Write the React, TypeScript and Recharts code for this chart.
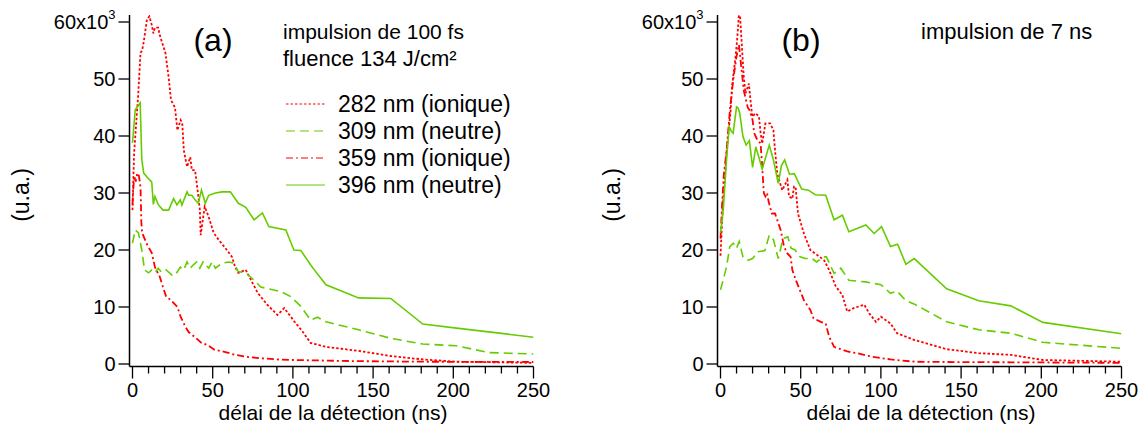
import React from 'react';
import { LineChart, Line, XAxis, YAxis } from 'recharts';

const RED = '#ff0000';
const GREEN = '#66cc00';
const FONT = "'Liberation Sans', Arial, Helvetica, sans-serif";

// (a) impulsion de 100 fs — time in ns, intensity in 10^3 u.a.
const a282T = [0, 1, 3.5, 5, 6, 7, 9, 10.5, 12, 13, 14, 16, 17, 18, 20.5, 22.5, 24, 26.5, 28, 30, 31, 32, 34, 36, 37, 39, 40, 41, 42, 42.5, 45, 47.5, 50.6, 53.7, 58, 62, 64, 66, 70.6, 78, 84, 90.4, 94.6, 100.8, 106, 111, 120.6, 141, 161, 181, 202, 250];
const a282V = [27, 37, 47, 54.6, 55, 56.5, 60.4, 61, 59.5, 58, 59, 59, 57.7, 56.8, 54.6, 50.4, 46.3, 45, 41, 42.8, 42.3, 37.5, 34.6, 36.3, 34, 34, 31.8, 29.5, 27, 22.6, 27.6, 25.8, 23, 21.8, 20.3, 18.8, 17, 16, 16.5, 12.5, 10.4, 8.6, 9.8, 7.5, 5.7, 3.7, 3, 2.3, 1.4, 0.8, 0.4, 0.2];

const a309T = [0, 1.7, 3.75, 5.8, 7.5, 10, 12, 14, 16, 18, 21, 24.6, 26.7, 29.8, 31.9, 34, 36, 38, 40, 42, 44, 47.5, 49.6, 51.7, 55.8, 60, 63, 66, 70.6, 75.8, 80, 92.5, 98.8, 105, 111, 115.4, 120.6, 141, 161, 181, 202, 222, 250];
const a309V = [21.2, 23.5, 23, 20, 16.5, 16, 16.5, 16, 16.8, 16.1, 16.5, 15.6, 15.6, 17, 16.5, 17.9, 16.8, 17.4, 17.9, 16.8, 17.9, 16.8, 17.9, 16.8, 17.7, 17.9, 17.7, 16.2, 16, 14.7, 13.5, 12.7, 11.8, 10.1, 7.7, 8.2, 7.4, 6, 4.5, 3.5, 3.2, 2, 1.75];

const a359T = [0, 1, 2, 3, 4, 5, 5.5, 6, 9, 12, 14, 17, 19, 21, 24, 28, 30, 33, 35, 39, 43, 47, 51, 58, 64, 70, 80, 90, 100, 120, 140, 180, 250];
const a359V = [28, 33, 32, 33.5, 33, 31, 25, 23, 21, 19.5, 17, 15.3, 13.5, 11.8, 11.2, 10, 8.3, 6.5, 5.6, 4.7, 3.7, 3.3, 2.5, 2.1, 1.6, 1.3, 1.0, 0.8, 0.7, 0.6, 0.5, 0.4, 0.35];

const a396T = [0, 1.7, 3.75, 4.8, 5.8, 7, 9, 12, 13, 14, 16, 19, 22.5, 25.6, 27.7, 29.8, 30.8, 34, 35, 37, 39, 41, 43, 45.4, 47.5, 51.7, 55.8, 61, 66, 70.6, 75.8, 81, 85, 95.6, 100.6, 105, 111, 115, 120.6, 141, 161, 181, 202, 250];
const a396V = [38.8, 44.6, 45.4, 45.8, 35.8, 33.5, 32.8, 31.9, 28, 29.4, 28, 27, 27, 29, 27.9, 28.8, 27.9, 30.2, 29.6, 29.6, 28.8, 28.2, 30.5, 28.2, 29.6, 30, 30.2, 30.2, 28.2, 27.5, 25.3, 26.5, 24.1, 23.5, 20, 19.9, 17.4, 15.9, 13.9, 11.6, 11.5, 7, 6.3, 4.7];

// (b) impulsion de 7 ns
const b282T = [0, 1.5, 4, 6.2, 7.3, 9.4, 10.4, 11.4, 12, 13.5, 14.5, 15.6, 17.7, 18.7, 19.8, 21.9, 24, 25, 26, 28, 31, 33, 34, 35.4, 36.5, 38.5, 41.7, 42.7, 44.8, 45.8, 46.8, 48.3, 52, 56, 60.4, 64.6, 67.7, 71.9, 76, 79, 83, 89.6, 92.7, 96.9, 100, 106, 110, 121, 141, 161, 181, 201, 250];
const b282V = [19, 28, 38, 44, 49, 53.9, 57, 61, 62, 55, 50.4, 47.5, 49.2, 46.3, 43.4, 44, 43.4, 40.5, 38.7, 42.2, 42.2, 41, 37.5, 33.4, 32.3, 30.5, 32.3, 29.4, 29, 31.1, 31.1, 26.4, 22.9, 20, 19.1, 18.2, 16.5, 13.6, 12.1, 9.2, 9.8, 10.4, 8.9, 7.4, 8.3, 7.1, 5.4, 4.2, 2.6, 1.9, 1.6, 0.7, 0.4];

const b309T = [0, 3.75, 5.8, 8, 10, 11.7, 14, 17, 20, 23.5, 27.7, 30.4, 33, 36, 39, 42, 44, 46.5, 49.6, 52.7, 57, 60, 64, 66, 70.8, 75, 80, 90.6, 100, 106, 110, 115.6, 121, 141, 161, 181, 201, 250];
const b309V = [13, 17, 20.6, 21.2, 20.3, 21.5, 18.8, 18.2, 18.5, 19.7, 19.9, 22.6, 21.8, 18.5, 22, 22.3, 20.3, 20, 18.8, 18.5, 18.5, 17.9, 18.8, 18.8, 15.9, 16.8, 14.7, 14.4, 13.9, 12.4, 12.8, 11.1, 10.5, 7.4, 6, 5.4, 3.8, 2.75];

const b359T = [0, 1, 2, 4, 6, 8, 10, 11.5, 13, 14.5, 17, 18, 20, 21, 23, 25, 26, 27, 28, 29, 30, 32, 34, 37.5, 39.6, 41.7, 43.7, 44.8, 47, 52, 56, 58, 62.5, 65.6, 67.7, 70.8, 79, 85, 94, 106, 121, 141, 181, 250];
const b359V = [22, 28, 33, 38, 45, 50, 54, 56, 52, 48, 45, 44.6, 42.8, 40.5, 39.3, 38.7, 34.6, 30, 29.4, 30, 28.5, 26.4, 26.4, 23.5, 20.6, 19.4, 18.8, 16.5, 14.7, 11.2, 9.5, 8, 7.4, 7.1, 4.8, 3, 2.2, 1.9, 1.3, 0.8, 0.4, 0.35, 0.3, 0.2];

const b396T = [0, 1.7, 3.75, 5.4, 6.9, 7.9, 10, 11, 12, 14, 16, 18, 20, 22, 24, 26, 30.4, 33, 36, 38, 40, 43, 46, 50.6, 54.8, 59, 65.6, 70.8, 76, 80, 90.6, 95.8, 100.4, 106, 110.4, 115.6, 120.8, 141, 161, 181, 201, 250];
const b396V = [23, 27, 35.8, 41.6, 40.8, 40.5, 45.1, 44.9, 44, 39.9, 38.4, 39.2, 34.5, 38.1, 36.2, 34.2, 38.4, 35.8, 31.7, 34.8, 35.8, 33.3, 33.4, 30.7, 30.5, 29.7, 29.6, 25.3, 26.1, 23.2, 24.4, 22.9, 24.1, 20.6, 21, 17.5, 18.5, 13.2, 11.1, 10.2, 7.3, 5.3];

const xTicks = [0, 10, 20, 30, 40, 50, 60, 70, 80, 90, 100, 110, 120, 130, 140, 150, 160, 170, 180, 190, 200, 210, 220, 230, 240, 250];
const yTicks = [0, 10, 20, 30, 40, 50, 60];
const legendLabels = ['282 nm (ionique)', '309 nm (neutre)', '359 nm (ionique)', '396 nm (neutre)'];

// line looks, same order as the legend
const seriesStyle = [
  { color: RED, dash: '2.5 2', width: 1.8 },
  { color: GREEN, dash: '9 5', width: 1.6 },
  { color: RED, dash: '7 3 2 3', width: 1.8 },
  { color: GREEN, dash: undefined, width: 1.6 },
];

const zip = (t: number[], v: number[]) => t.map((x, i) => ({ t: x, v: v[i] }));

// geometry of a panel (px inside its own 560 wide chart)
const CH_W = 560;
const CH_H = 437;
const AXIS_X = 129.5;
const AXIS_Y = 366.5;
const PLOT_TOP = 15;
const PLOT_RIGHT = 533.5;
const X_DOMAIN: [number, number] = [-1.87, 250];
const Y_DOMAIN: [number, number] = [-0.44, 61.23];

const XTick = (props: any) => {
  const { x, payload } = props;
  const v = payload.value;
  const major = v % 50 === 0;
  return (
    <g>
      <line x1={x} x2={x} y1={AXIS_Y} y2={AXIS_Y + (major ? 12 : 7)} stroke="#000" strokeWidth={1.3} />
      {major && (
        <text x={x} y={390} textAnchor="middle" dominantBaseline="central" fontSize={20} fontFamily={FONT} fill="#000">
          {v}
        </text>
      )}
    </g>
  );
};

const YTick = (props: any) => {
  const { y, payload } = props;
  const v = payload.value;
  return (
    <g>
      <line x1={AXIS_X - 11} x2={AXIS_X} y1={y} y2={y} stroke="#000" strokeWidth={1.3} />
      <text x={AXIS_X - 14} y={y} textAnchor="end" dominantBaseline="central" fontSize={20} fontFamily={FONT} fill="#000">
        {v === 60 ? (
          <>
            60x10<tspan dy={-8} fontSize={13}>3</tspan>
          </>
        ) : (
          v
        )}
      </text>
    </g>
  );
};

const Panel = ({ series }: { series: { t: number[]; v: number[] }[] }) => (
  <LineChart
    width={CH_W}
    height={CH_H}
    margin={{ top: PLOT_TOP, right: CH_W - PLOT_RIGHT, bottom: CH_H - AXIS_Y - 30, left: AXIS_X - 60 }}
  >
    <XAxis
      type="number"
      dataKey="t"
      domain={X_DOMAIN}
      ticks={xTicks}
      interval={0}
      height={30}
      tickSize={0}
      tickMargin={0}
      tickLine={false}
      tick={(p: any) => <XTick {...p} />}
      axisLine={{ stroke: '#000', strokeWidth: 1.5 }}
      allowDataOverflow
    />
    <YAxis
      type="number"
      domain={Y_DOMAIN}
      ticks={yTicks}
      interval={0}
      width={60}
      tickSize={0}
      tickMargin={0}
      tickLine={false}
      tick={(p: any) => <YTick {...p} />}
      axisLine={{ stroke: '#000', strokeWidth: 1.5 }}
      allowDataOverflow
    />
    {series.map((s, i) => (
      <Line
        key={i}
        data={zip(s.t, s.v)}
        dataKey="v"
        type="linear"
        stroke={seriesStyle[i].color}
        strokeDasharray={seriesStyle[i].dash}
        strokeWidth={seriesStyle[i].width}
        dot={false}
        activeDot={false}
        isAnimationActive={false}
      />
    ))}
  </LineChart>
);

const txt = { fontFamily: FONT, fill: '#000' };

export default function App() {
  const panelA = [
    { t: a282T, v: a282V },
    { t: a309T, v: a309V },
    { t: a359T, v: a359V },
    { t: a396T, v: a396V },
  ];
  const panelB = [
    { t: b282T, v: b282V },
    { t: b309T, v: b309V },
    { t: b359T, v: b359V },
    { t: b396T, v: b396V },
  ];
  const legendRows = [104, 131, 158, 185];

  return (
    <div style={{ position: 'absolute', left: 0, top: 0, width: 1144, height: 437, background: '#fff' }}>
      <div style={{ position: 'absolute', left: 0, top: 0 }}>
        <Panel series={panelA} />
      </div>
      <div style={{ position: 'absolute', left: 588, top: 0 }}>
        <Panel series={panelB} />
      </div>
      <svg width={1144} height={437} style={{ position: 'absolute', left: 0, top: 0, pointerEvents: 'none' }}>
        <text x={21} y={195} transform="rotate(-90 21 195)" textAnchor="middle" dominantBaseline="central" fontSize={23} {...txt}>(u.a.)</text>
        <text x={612} y={195} transform="rotate(-90 612 195)" textAnchor="middle" dominantBaseline="central" fontSize={23} {...txt}>(u.a.)</text>
        <text x={333} y={412} textAnchor="middle" dominantBaseline="central" fontSize={21} {...txt}>délai de la détection (ns)</text>
        <text x={921} y={412} textAnchor="middle" dominantBaseline="central" fontSize={21} {...txt}>délai de la détection (ns)</text>

        <text x={213} y={40} textAnchor="middle" dominantBaseline="central" fontSize={32} {...txt}>(a)</text>
        <text x={801} y={40} textAnchor="middle" dominantBaseline="central" fontSize={32} {...txt}>(b)</text>

        <text x={283} y={31} dominantBaseline="central" fontSize={21} {...txt}>impulsion de 100 fs</text>
        <text x={283} y={58} dominantBaseline="central" fontSize={22} {...txt}>fluence 134 J/cm²</text>
        <text x={921} y={31} dominantBaseline="central" fontSize={22} {...txt}>impulsion de 7 ns</text>

        {legendLabels.map((lab, i) => (
          <g key={lab}>
            <line x1={286} x2={325} y1={legendRows[i]} y2={legendRows[i]} stroke={seriesStyle[i].color} strokeDasharray={seriesStyle[i].dash} strokeWidth={1.2} />
            <text x={338} y={legendRows[i]} dominantBaseline="central" fontSize={23} {...txt}>{lab}</text>
          </g>
        ))}
      </svg>
    </div>
  );
}
